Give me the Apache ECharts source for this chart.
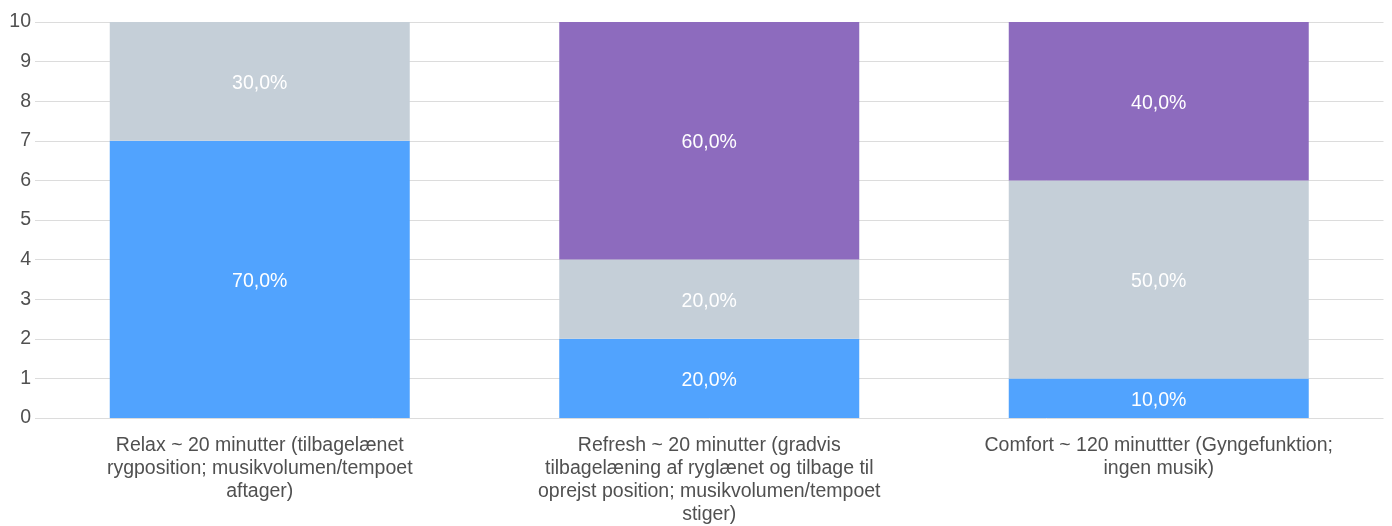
<!DOCTYPE html>
<html><head><meta charset="utf-8">
<script src="https://cdn.jsdelivr.net/npm/echarts@6/dist/echarts.min.js"></script>
<style>html,body{margin:0;padding:0;background:#fff}#c{width:1392px;height:526px}</style>
</head><body><div id="c"></div>
<script>
const categories = [
  "Relax ~ 20 minutter (tilbagelænet\nrygposition; musikvolumen/tempoet\naftager)",
  "Refresh ~ 20 minutter (gradvis\ntilbagelæning af ryglænet og tilbage til\noprejst position; musikvolumen/tempoet\nstiger)",
  "Comfort ~ 120 minuttter (Gyngefunktion;\ningen musik)"
];
const blueValues = [7, 2, 1];
const grayValues = [3, 2, 5];
const purpleValues = [0, 6, 4];
const totals = [10, 10, 10];

const FONT = 'Liberation Sans, Arial, sans-serif';
const fmt = p => {
  if (!p.value) return '';
  return (p.value / totals[p.dataIndex] * 100).toFixed(1).replace('.', ',') + '%';
};
const lbl = {show: true, position: 'inside', offset: [0, 2], color: '#fff', fontSize: 19.5, fontFamily: FONT, formatter: fmt};
const chart = echarts.init(document.getElementById('c'));
chart.setOption({
  animation: false,
  grid: {left: 35, right: 8.5, top: 22, bottom: 107},
  xAxis: {
    type: 'category', data: categories,
    axisLine: {show: false}, axisTick: {show: false},
    axisLabel: {color: '#505050', fontSize: 19.5, lineHeight: 23, margin: 16, interval: 0, fontFamily: FONT}
  },
  yAxis: {
    type: 'value', min: 0, max: 10, interval: 1,
    axisLine: {show: false}, axisTick: {show: false},
    axisLabel: {color: '#505050', fontSize: 19.5, margin: 4, fontFamily: FONT},
    splitLine: {lineStyle: {color: '#dcdcdc', width: 1}}
  },
  series: [
    {type: 'bar', stack: 's', data: blueValues, barWidth: 300, itemStyle: {color: '#51a3fe'}, label: lbl},
    {type: 'bar', stack: 's', data: grayValues, barWidth: 300, itemStyle: {color: '#c5cfd8'}, label: lbl},
    {type: 'bar', stack: 's', data: purpleValues, barWidth: 300, itemStyle: {color: '#8d6bbe'}, label: lbl}
  ]
});
</script></body></html>
